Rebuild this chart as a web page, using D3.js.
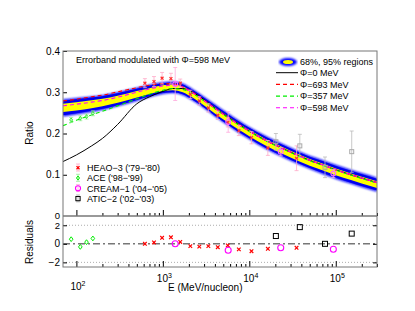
<!DOCTYPE html>
<html>
<head>
<meta charset="utf-8">
<script src="https://cdn.jsdelivr.net/npm/d3@7"></script>
<style>
  body { margin: 0; background: #fff; }
  svg { display: block; font-family: "Liberation Sans", Arial, sans-serif; }
</style>
</head>
<body>
<svg id="chart" width="415" height="311"></svg>
<script>
// --- model curves (E in MeV/nucleon) ---
const modelE   = [70, 100, 150, 200, 300, 500, 700, 1000, 1300, 1700, 2200, 3000, 4000, 5500, 7500, 10000, 15000, 20000, 30000, 50000, 70000, 100000, 150000, 200000, 300000];
const bandMid  = [0.262, 0.266, 0.271, 0.275, 0.283, 0.295, 0.303, 0.310, 0.312, 0.307, 0.294, 0.275, 0.256, 0.236, 0.217, 0.201, 0.180, 0.167, 0.150, 0.130, 0.119, 0.107, 0.095, 0.087, 0.076];
const band95   = [0.021, 0.020, 0.019, 0.018, 0.017, 0.016, 0.015, 0.014, 0.014, 0.014, 0.014, 0.014, 0.015, 0.015, 0.015, 0.015, 0.016, 0.016, 0.016, 0.016, 0.017, 0.017, 0.017, 0.017, 0.017];
const band68   = [0.010, 0.010, 0.0095, 0.009, 0.0085, 0.008, 0.007, 0.007, 0.007, 0.007, 0.007, 0.007, 0.0075, 0.0075, 0.0075, 0.0075, 0.008, 0.008, 0.008, 0.008, 0.008, 0.008, 0.008, 0.008, 0.008];
const phi0     = [0.132, 0.148, 0.170, 0.188, 0.222, 0.272, 0.289, 0.302, 0.309, 0.309, 0.300, 0.282, 0.262, 0.242, 0.223, 0.206, 0.185, 0.172, 0.155, 0.135, 0.124, 0.112, 0.100, 0.092, 0.081];
const phi693   = [0.279, 0.283, 0.289, 0.293, 0.301, 0.311, 0.317, 0.321, 0.320, 0.313, 0.300, 0.280, 0.261, 0.241, 0.222, 0.206, 0.185, 0.172, 0.155, 0.135, 0.124, 0.112, 0.100, 0.092, 0.081];
const phi357   = [0.219, 0.232, 0.245, 0.254, 0.267, 0.284, 0.295, 0.305, 0.309, 0.307, 0.297, 0.279, 0.260, 0.240, 0.221, 0.205, 0.184, 0.171, 0.154, 0.134, 0.123, 0.111, 0.099, 0.091, 0.080];
const phi598   = [0.267, 0.271, 0.276, 0.280, 0.288, 0.300, 0.308, 0.315, 0.317, 0.312, 0.299, 0.280, 0.261, 0.241, 0.222, 0.206, 0.185, 0.172, 0.155, 0.135, 0.124, 0.112, 0.100, 0.092, 0.081];

// --- data sets ---
const heaoE     = [620, 790, 980, 1240, 1590, 2080, 2640, 3360, 4320, 5640, 7570, 10600, 16400, 35200];
const heaoRatio = [0.322, 0.326, 0.334, 0.333, 0.322, 0.295, 0.279, 0.262, 0.244, 0.227, 0.207, 0.190, 0.165, 0.140];
const heaoErr   = [0.011, 0.012, 0.014, 0.013, 0.010, 0.010, 0.010, 0.010, 0.010, 0.011, 0.012, 0.015, 0.018, 0.030];
const heaoRes   = [0.0, 0.15, 0.65, 0.7, 0.2, -0.25, -0.3, -0.25, -0.36, -0.18, -0.6, -0.8, -0.54, -0.43];

const aceE     = [87, 111, 131, 155];
const aceRatio = [0.233, 0.237, 0.241, 0.249];
const aceErr   = [0.006, 0.006, 0.006, 0.006];
const aceRes   = [0.5, -0.33, 0.18, 0.58];

const creamE     = [1390, 5700, 23100, 93800];
const creamRatio = [0.320, 0.228, 0.156, 0.103];
const creamErr   = [0.040, 0.025, 0.010, 0.010];
const creamRes   = [0.0, -0.7, -0.43, -0.58];

const aticE     = [20300, 38400, 75100, 153000];
const aticRatio = [0.180, 0.170, 0.118, 0.156];
const aticErr   = [0.020, 0.028, 0.025, 0.050];
const aticRes   = [0.84, 1.8, 0.0, 1.1];

const xMajor = [1e2, 1e3, 1e4, 1e5];
const xMajorExp = ['2', '3', '4', '5'];
const yTicks = [0.1, 0.2, 0.3, 0.4];
const yLabels = ['0.1', '0.2', '0.3', '0.4'];
const resTicks = [-2, 0, 2];
const resLabels = ['\u22122', '0', '2'];

const legendLines = [
  { label: '\u03a6=0 MeV', color: '#000', dash: null },
  { label: '\u03a6=693 MeV', color: '#ff0000', dash: '4,3' },
  { label: '\u03a6=357 MeV', color: '#00ee00', dash: '4,3' },
  { label: '\u03a6=598 MeV', color: '#ff00ff', dash: '4,3' },
];
const legendData = ["HEAO\u22123 ('79\u2212'80)", "ACE ('98\u2212'99)", "CREAM\u22121 ('04\u2212'05)", "ATIC\u22122 ('02\u2212'03)"];

// --- layout ---
const padL = 63, padR = 377, padT = 51, padMid = 216, padB = 267;

const svg = d3.select('#chart');
const x = d3.scaleLog().domain([70, 3e5]).range([padL, padR]);
const y = d3.scaleLinear().domain([0, 0.4]).range([padMid, padT]);
const yr = d3.scaleLinear().domain([-2.5, 3]).range([padB, padMid]);

const defs = svg.append('defs');
defs.append('filter').attr('id', 'soft').attr('x', '-5%').attr('y', '-20%').attr('width', '110%').attr('height', '140%')
  .append('feGaussianBlur').attr('stdDeviation', 0.9);
defs.append('clipPath').attr('id', 'mainClip')
  .append('rect').attr('x', padL).attr('y', padT).attr('width', padR - padL).attr('height', padMid - padT);

const plot = svg.append('g').attr('clip-path', 'url(#mainClip)');

// --- error band ---
const idx = d3.range(modelE.length);
const area = (hw, k) => d3.area()
  .x(i => x(modelE[i]))
  .y0(i => y(bandMid[i] - hw[i] * k))
  .y1(i => y(bandMid[i] + hw[i] * k))
  .curve(d3.curveMonotoneX)(idx);

plot.append('path').attr('d', area(band95, 1)).attr('fill', '#1010ff').attr('filter', 'url(#soft)');
plot.append('path').attr('d', area(band95, 0.85)).attr('fill', '#0000f0');
plot.append('path').attr('d', area(band68, 1)).attr('fill', '#ffff00');

// --- model lines ---
const line = (vals) => d3.line().x(i => x(modelE[i])).y(i => y(vals[i])).curve(d3.curveMonotoneX)(idx);
plot.append('path').attr('d', line(phi0)).attr('fill', 'none').attr('stroke', '#000').attr('stroke-width', 1);
plot.append('path').attr('d', line(phi357)).attr('fill', 'none').attr('stroke', '#00ee00').attr('stroke-width', 1.1).attr('stroke-dasharray', '4,3');
plot.append('path').attr('d', line(phi693)).attr('fill', 'none').attr('stroke', '#ff0000').attr('stroke-width', 1.1).attr('stroke-dasharray', '4,3');
plot.append('path').attr('d', line(phi598)).attr('fill', 'none').attr('stroke', '#ff00ff').attr('stroke-width', 1.1).attr('stroke-dasharray', '4,3');

// --- markers ---
function marker(g, type, cx, cy, color, scale = 1) {
  if (type === 'x') {
    const s = 1.8 * scale;
    g.append('path').attr('d', `M${cx - s},${cy - s}L${cx + s},${cy + s}M${cx - s},${cy + s}L${cx + s},${cy - s}`)
      .attr('stroke', color).attr('stroke-width', 1.2).attr('fill', 'none');
  } else if (type === 'diamond') {
    const s = 2.4 * scale;
    g.append('path').attr('d', `M${cx},${cy - s}L${cx + s * 0.75},${cy}L${cx},${cy + s}L${cx - s * 0.75},${cy}Z`)
      .attr('stroke', color).attr('stroke-width', 1).attr('fill', 'none');
  } else if (type === 'circle') {
    g.append('circle').attr('cx', cx).attr('cy', cy).attr('r', 3 * scale)
      .attr('stroke', color).attr('stroke-width', 1.1).attr('fill', 'none');
  } else {
    const s = 2.5 * scale;
    g.append('rect').attr('x', cx - s).attr('y', cy - s).attr('width', 2 * s).attr('height', 2 * s)
      .attr('stroke', color).attr('stroke-width', 1).attr('fill', 'none');
  }
}

function errbar(g, cx, y0, y1, color) {
  g.append('path').attr('d', `M${cx},${y0}L${cx},${y1}M${cx - 2},${y0}L${cx + 2},${y0}M${cx - 2},${y1}L${cx + 2},${y1}`)
    .attr('stroke', color).attr('stroke-width', 0.8).attr('fill', 'none');
}

const sets = [
  { E: heaoE, v: heaoRatio, err: heaoErr, res: heaoRes, type: 'x', color: '#ff3030', resColor: '#ff0000', bar: '#ffaac8' },
  { E: aceE, v: aceRatio, err: aceErr, res: aceRes, type: 'diamond', color: '#33ee33', resColor: '#00ee00', bar: '#99ee99' },
  { E: creamE, v: creamRatio, err: creamErr, res: creamRes, type: 'circle', color: '#ff66ff', resColor: '#ff00ff', bar: '#ffaadd' },
  { E: aticE, v: aticRatio, err: aticErr, res: aticRes, type: 'square', color: '#aaaaaa', resColor: '#000', bar: '#bbbbbb' },
];

sets.forEach(s => {
  s.E.forEach((e, i) => errbar(plot, x(e), y(s.v[i] - s.err[i]), y(s.v[i] + s.err[i]), s.bar));
});
sets.forEach(s => {
  s.E.forEach((e, i) => marker(plot, s.type, x(e), y(s.v[i]), s.color, 0.8));
});

// --- residual panel ---
const resG = svg.append('g');
resTicks.filter(t => t !== 0).forEach(t => {
  resG.append('line').attr('x1', padL).attr('x2', padR).attr('y1', yr(t)).attr('y2', yr(t))
    .attr('stroke', '#999').attr('stroke-width', 0.8).attr('stroke-dasharray', '1,2');
});
resG.append('line').attr('x1', padL).attr('x2', padR).attr('y1', yr(0)).attr('y2', yr(0))
  .attr('stroke', '#777').attr('stroke-width', 1.5).attr('stroke-dasharray', '7,3,2,3');
sets.forEach(s => {
  s.E.forEach((e, i) => marker(resG, s.type, x(e), yr(s.res[i]), s.resColor));
});

// --- axes and frames ---
const minorTicks = x.ticks().filter(t => t >= 100 && !xMajor.includes(t));

[padMid, padB].forEach(yy => {
  const gMinor = svg.append('g').attr('transform', `translate(0,${yy})`)
    .call(d3.axisBottom(x).tickValues(minorTicks).tickSize(-3).tickFormat(''));
  const gMajor = svg.append('g').attr('transform', `translate(0,${yy})`)
    .call(d3.axisBottom(x).tickValues(xMajor).tickSize(-6).tickFormat(''));
  [gMinor, gMajor].forEach(g => {
    g.select('.domain').remove();
    g.selectAll('line').attr('stroke', '#000').attr('stroke-width', 1);
  });
});

const gy = svg.append('g').attr('transform', `translate(${padL},0)`)
  .call(d3.axisLeft(y).tickValues(yTicks).tickSize(-4).tickFormat(''));
gy.select('.domain').remove();
gy.selectAll('line').attr('stroke', '#000');

const gyr = svg.append('g').attr('transform', `translate(${padL},0)`)
  .call(d3.axisLeft(yr).tickValues(resTicks).tickSize(-4).tickFormat(''));
gyr.select('.domain').remove();
gyr.selectAll('line').attr('stroke', '#000');

const gyr2 = svg.append('g').attr('transform', `translate(${padR},0)`)
  .call(d3.axisRight(yr).tickValues(resTicks).tickSize(-4).tickFormat(''));
gyr2.select('.domain').remove();
gyr2.selectAll('line').attr('stroke', '#000');

svg.append('rect').attr('x', padL).attr('y', padT).attr('width', padR - padL).attr('height', padB - padT)
  .attr('fill', 'none').attr('stroke', '#777').attr('stroke-width', 1);
svg.append('line').attr('x1', padL).attr('x2', padR).attr('y1', padMid).attr('y2', padMid)
  .attr('stroke', '#777').attr('stroke-width', 1.5);

// --- tick labels ---
const labels = svg.append('g').attr('font-size', 10).attr('fill', '#000');
yTicks.forEach((t, i) => {
  labels.append('text').attr('x', padL - 3).attr('y', y(t) + 3.5).attr('text-anchor', 'end').text(yLabels[i]);
});
labels.append('text').attr('x', padL - 3).attr('y', padMid + 2.5).attr('font-size', 9.5).attr('text-anchor', 'end').text('0');
resTicks.forEach((t, i) => {
  labels.append('text').attr('x', padL - 3).attr('y', yr(t) + (t === 2 ? 4.2 : 3.5)).attr('font-size', t === 2 ? 9.5 : 10)
    .attr('text-anchor', 'end').text(resLabels[i]);
});
xMajor.forEach((t, i) => {
  const base = i === 0 ? 290 : 282;
  const tx = labels.append('text').attr('x', x(t) - 6).attr('y', base);
  tx.append('tspan').text('10');
  tx.append('tspan').attr('font-size', 7).attr('dy', -4.5).text(xMajorExp[i]);
});
labels.append('text').attr('x', 168).attr('y', 291).text('E (MeV/nucleon)');
labels.append('text').attr('transform', `translate(33,133) rotate(-90)`).attr('text-anchor', 'middle').text('Ratio');
labels.append('text').attr('transform', `translate(33,242) rotate(-90)`).attr('text-anchor', 'middle').text('Residuals');

// --- annotations / legends ---
const leg = svg.append('g').attr('font-size', 9).attr('fill', '#000');
leg.append('text').attr('x', 76).attr('y', 63).text('Errorband modulated with \u03a6=598 MeV');

leg.append('ellipse').attr('cx', 288).attr('cy', 62).attr('rx', 9).attr('ry', 4).attr('fill', '#0000ff').attr('filter', 'url(#soft)');
leg.append('ellipse').attr('cx', 288).attr('cy', 62).attr('rx', 5).attr('ry', 2).attr('fill', '#ffff00');
leg.append('text').attr('x', 300).attr('y', 65).text('68%, 95% regions');
legendLines.forEach((d, i) => {
  const yy = 76 + i * 11.7;
  leg.append('line').attr('x1', 276).attr('x2', 298).attr('y1', yy - 3.3).attr('y2', yy - 3.3)
    .attr('stroke', d.color).attr('stroke-width', d.dash ? 1.1 : 1).attr('stroke-dasharray', d.dash);
  leg.append('text').attr('x', 300).attr('y', yy).text(d.label);
});

legendData.forEach((label, i) => {
  const yy = 171 + i * 10.3;
  const s = sets[i];
  errbar(leg, 78, yy - 7, yy, s.bar);
  marker(leg, s.type, 78, yy - 3.3, s.resColor, 0.85);
  leg.append('text').attr('x', 87).attr('y', yy).text(label);
});
</script>
</body>
</html>
